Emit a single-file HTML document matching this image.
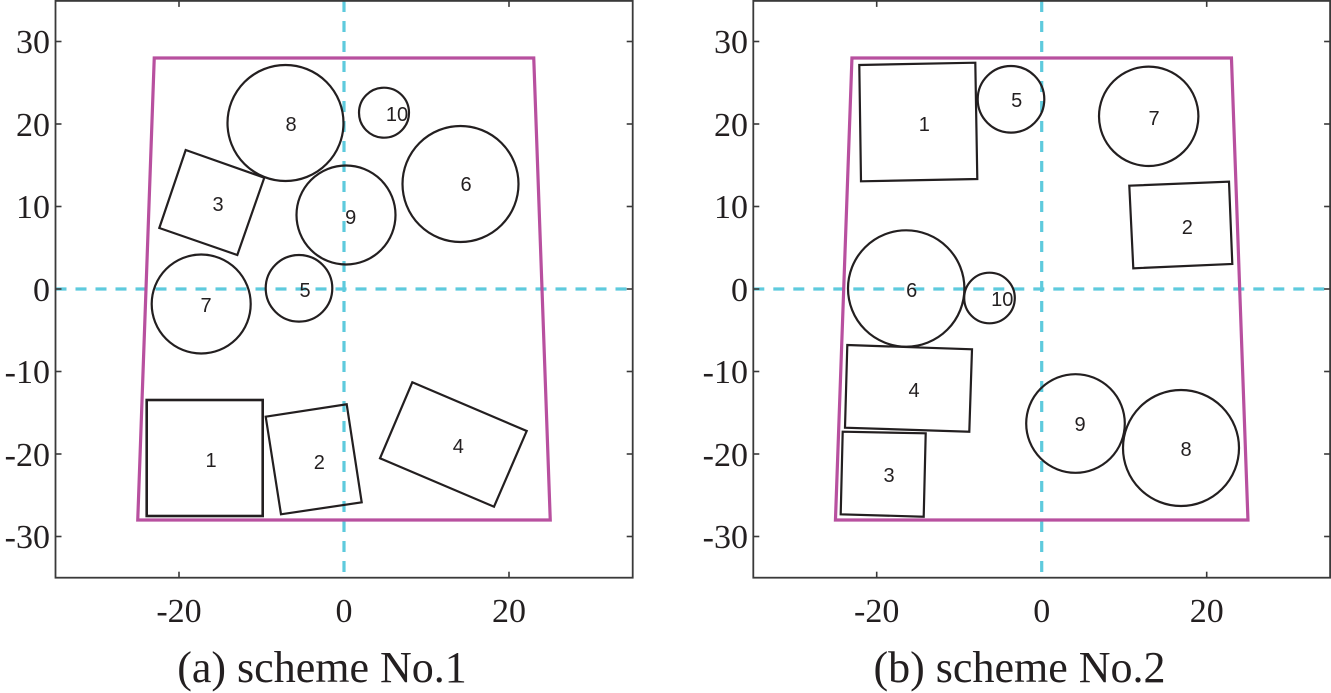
<!DOCTYPE html>
<html>
<head>
<meta charset="utf-8">
<style>
  html, body { margin:0; padding:0; background:#fff; }
  svg { display:block; }
  .tick { font-family:"Liberation Serif", serif; font-size:34px; fill:#231f20; }
  .title { font-family:"Liberation Serif", serif; font-size:44px; fill:#231f20; }
  .lbl { font-family:"Liberation Sans", sans-serif; font-size:20px; fill:#231f20; }
  .shape { fill:none; stroke:#231f20; stroke-width:2.2; }
  .bound { fill:none; stroke:#b8509f; stroke-width:3.2; stroke-linejoin:miter; }
  .dash { stroke:#5ecadd; stroke-width:3.2; stroke-dasharray:11 9; fill:none; }
  .spine { fill:none; stroke:#3a3a3a; stroke-width:1.8; }
  .tk { stroke:#3a3a3a; stroke-width:1.6; }
</style>
</head>
<body>
<svg width="1331" height="693" viewBox="0 0 1331 693" xmlns="http://www.w3.org/2000/svg">

  <!-- ================= LEFT PANEL ================= -->
  <!-- dashed axes -->
  <line class="dash" x1="55.5" y1="289" x2="632.5" y2="289"/>
  <line class="dash" x1="344" y1="1" x2="344" y2="577"/>

  <!-- spines -->
  <rect class="spine" x="55.5" y="0.9" width="577.2" height="576.8"/>
  <!-- y ticks left & right -->
  <g class="tk">
    <line x1="55.5" y1="41.5" x2="61.5" y2="41.5"/><line x1="632.7" y1="41.5" x2="626.7" y2="41.5"/>
    <line x1="55.5" y1="124" x2="61.5" y2="124"/><line x1="632.7" y1="124" x2="626.7" y2="124"/>
    <line x1="55.5" y1="206.5" x2="61.5" y2="206.5"/><line x1="632.7" y1="206.5" x2="626.7" y2="206.5"/>
    <line x1="55.5" y1="289" x2="61.5" y2="289"/><line x1="632.7" y1="289" x2="626.7" y2="289"/>
    <line x1="55.5" y1="371.5" x2="61.5" y2="371.5"/><line x1="632.7" y1="371.5" x2="626.7" y2="371.5"/>
    <line x1="55.5" y1="454" x2="61.5" y2="454"/><line x1="632.7" y1="454" x2="626.7" y2="454"/>
    <line x1="55.5" y1="536.5" x2="61.5" y2="536.5"/><line x1="632.7" y1="536.5" x2="626.7" y2="536.5"/>
    <line x1="179" y1="0.9" x2="179" y2="6.9"/><line x1="179" y1="577.7" x2="179" y2="571.7"/>
    <line x1="509" y1="0.9" x2="509" y2="6.9"/><line x1="509" y1="577.7" x2="509" y2="571.7"/>
  </g>

  <!-- y tick labels -->
  <g class="tick" text-anchor="end">
    <text x="50" y="53">30</text>
    <text x="50" y="136">20</text>
    <text x="50" y="218">10</text>
    <text x="50" y="301">0</text>
    <text x="50" y="383">-10</text>
    <text x="50" y="466">-20</text>
    <text x="50" y="548">-30</text>
  </g>
  <!-- x tick labels -->
  <g class="tick" text-anchor="middle">
    <text x="179" y="622">-20</text>
    <text x="344" y="622">0</text>
    <text x="509" y="622">20</text>
  </g>
  <text class="title" x="322" y="682" text-anchor="middle">(a) scheme No.1</text>

  <!-- boundary -->
  <polygon class="bound" points="154.25,58 533.75,58 550.25,520 137.75,520"/>

  <!-- shapes -->
  <circle class="shape" cx="285.5" cy="123" r="58"/>
  <circle class="shape" cx="384" cy="112.7" r="25"/>
  <circle class="shape" cx="460.5" cy="184" r="58"/>
  <circle class="shape" cx="346" cy="215" r="49.5"/>
  <circle class="shape" cx="299" cy="288.3" r="33.3"/>
  <circle class="shape" cx="201.2" cy="304" r="49.5"/>
  <polygon class="shape" points="185.7,150 264.3,177.7 237.3,255 159.3,228"/>
  <rect class="shape" x="146.7" y="400" width="116" height="116" style="stroke-width:2.6"/>
  <polygon class="shape" points="265.7,416.7 346.7,404.3 361.7,502.3 281,514.3"/>
  <polygon class="shape" points="412.3,382.3 526.7,431 494,506.7 380,458.3"/>

  <!-- labels -->
  <g class="lbl" text-anchor="middle">
    <text x="291" y="131">8</text>
    <text x="397" y="121">10</text>
    <text x="466" y="191">6</text>
    <text x="350.7" y="224">9</text>
    <text x="305" y="297">5</text>
    <text x="206" y="312">7</text>
    <text x="218" y="211">3</text>
    <text x="211" y="467">1</text>
    <text x="319.3" y="469">2</text>
    <text x="458.3" y="453">4</text>
  </g>

  <!-- ================= RIGHT PANEL ================= -->
  <line class="dash" x1="753.3" y1="289" x2="1330" y2="289"/>
  <line class="dash" x1="1041.7" y1="1" x2="1041.7" y2="577"/>

  <rect class="spine" x="753.3" y="0.9" width="576.8" height="576.8"/>
  <g class="tk">
    <line x1="753.3" y1="41.5" x2="759.3" y2="41.5"/><line x1="1330.1" y1="41.5" x2="1324.1" y2="41.5"/>
    <line x1="753.3" y1="124" x2="759.3" y2="124"/><line x1="1330.1" y1="124" x2="1324.1" y2="124"/>
    <line x1="753.3" y1="206.5" x2="759.3" y2="206.5"/><line x1="1330.1" y1="206.5" x2="1324.1" y2="206.5"/>
    <line x1="753.3" y1="289" x2="759.3" y2="289"/><line x1="1330.1" y1="289" x2="1324.1" y2="289"/>
    <line x1="753.3" y1="371.5" x2="759.3" y2="371.5"/><line x1="1330.1" y1="371.5" x2="1324.1" y2="371.5"/>
    <line x1="753.3" y1="454" x2="759.3" y2="454"/><line x1="1330.1" y1="454" x2="1324.1" y2="454"/>
    <line x1="753.3" y1="536.5" x2="759.3" y2="536.5"/><line x1="1330.1" y1="536.5" x2="1324.1" y2="536.5"/>
    <line x1="876.7" y1="0.9" x2="876.7" y2="6.9"/><line x1="876.7" y1="577.7" x2="876.7" y2="571.7"/>
    <line x1="1206.7" y1="0.9" x2="1206.7" y2="6.9"/><line x1="1206.7" y1="577.7" x2="1206.7" y2="571.7"/>
  </g>

  <g class="tick" text-anchor="end">
    <text x="748" y="53">30</text>
    <text x="748" y="136">20</text>
    <text x="748" y="218">10</text>
    <text x="748" y="301">0</text>
    <text x="748" y="383">-10</text>
    <text x="748" y="466">-20</text>
    <text x="748" y="548">-30</text>
  </g>
  <g class="tick" text-anchor="middle">
    <text x="876.7" y="622">-20</text>
    <text x="1041.7" y="622">0</text>
    <text x="1206.7" y="622">20</text>
  </g>
  <text class="title" x="1019.5" y="682" text-anchor="middle">(b) scheme No.2</text>

  <polygon class="bound" points="851.95,58 1231.45,58 1247.95,520 835.45,520"/>

  <polygon class="shape" points="859.3,65 975.3,62.7 977.3,179 861,181.3"/>
  <circle class="shape" cx="1011" cy="99.3" r="33.3"/>
  <circle class="shape" cx="1148.7" cy="116.3" r="49.7"/>
  <polygon class="shape" points="1129.3,185.7 1229,181.7 1232.3,264 1133.3,268.3"/>
  <circle class="shape" cx="906.2" cy="288.5" r="58.2"/>
  <circle class="shape" cx="989.5" cy="298" r="25.3"/>
  <polygon class="shape" points="847.3,345 972,349.3 969.3,431.7 845,427.7"/>
  <polygon class="shape" points="842.7,431.7 925.7,433.3 923.7,516.7 840.7,514.3"/>
  <circle class="shape" cx="1075.5" cy="423.5" r="49.3"/>
  <circle class="shape" cx="1181" cy="448" r="58"/>

  <g class="lbl" text-anchor="middle">
    <text x="924.3" y="131">1</text>
    <text x="1016.7" y="107">5</text>
    <text x="1154" y="125">7</text>
    <text x="1187.3" y="234">2</text>
    <text x="911.7" y="297">6</text>
    <text x="1002.3" y="306">10</text>
    <text x="914" y="397">4</text>
    <text x="889" y="482">3</text>
    <text x="1080" y="431">9</text>
    <text x="1186" y="456">8</text>
  </g>
</svg>
</body>
</html>
